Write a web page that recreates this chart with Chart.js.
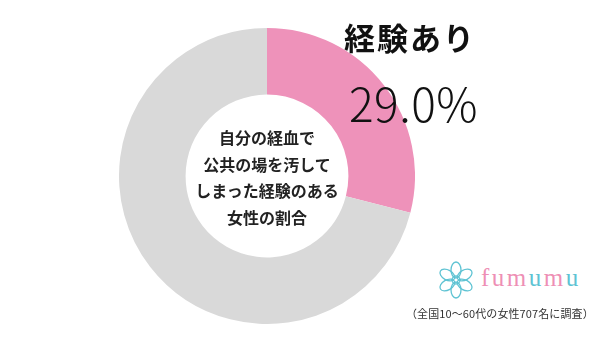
<!DOCTYPE html>
<html lang="ja">
<head>
  <meta charset="UTF-8" />
  <title>経験あり 29.0%</title>
  <script src="https://cdn.jsdelivr.net/npm/chart.js"></script>
  <style>
    /* ---------- layout ---------- */
    html,body { margin:0; padding:0; background:#fff; }
    body  { width:600px; height:341px; position:relative; overflow:hidden;
            font-family:"Noto Sans CJK JP","Noto Sans",sans-serif; color:#111; }
    .donut-box { position:absolute; left:119px; top:28px; width:296px; height:296px; }
    .center-txt{ position:absolute; left:167px; top:124px; width:200px;
                 text-align:center; font-size:16px; font-weight:700;
                 line-height:26.5px; color:#222; }
    .big-label { position:absolute; left:344px; top:14px; font-size:31px;
                 font-weight:700; letter-spacing:2px; color:#111; }
    .big-pct   { position:absolute; left:349px; top:69px; font-size:46px;
                 font-weight:300; color:#111; letter-spacing:0.5px; }
    .logo      { position:absolute; left:436px; top:261px; display:flex; align-items:center; }
    .logo-word { font-family:"Liberation Serif","DejaVu Serif",serif; font-size:25px;
                 letter-spacing:2.5px; margin-left:5px; margin-top:-4px; }
    .pk { color:#ee8fb5; } .tl { color:#5ec3d3; }
    .note      { position:absolute; left:406px; top:305px; font-size:11px; color:#333;
                 white-space:nowrap; letter-spacing:0.1px; }
  </style>
</head>
<body>
  <div class="donut-box"><canvas id="donut" width="296" height="296"></canvas></div>

  <div class="center-txt">自分の経血で<br>公共の場を汚して<br>しまった経験のある<br>女性の割合</div>

  <div class="big-label">経験あり</div>
  <div class="big-pct">29.0%</div>

  <!-- fumumu logo -->
  <div class="logo">
    <svg width="40" height="38" viewBox="-20 -19 40 38">
      <g fill="none" stroke="#5ec3d3" stroke-width="1.3">
        <ellipse cx="0" cy="-10" rx="5" ry="8" transform="rotate(0)"/>
        <ellipse cx="0" cy="-10" rx="5" ry="8" transform="rotate(60)"/>
        <ellipse cx="0" cy="-10" rx="5" ry="8" transform="rotate(120)"/>
        <ellipse cx="0" cy="-10" rx="5" ry="8" transform="rotate(180)"/>
        <ellipse cx="0" cy="-10" rx="5" ry="8" transform="rotate(240)"/>
        <ellipse cx="0" cy="-10" rx="5" ry="8" transform="rotate(300)"/>
        <circle cx="0" cy="0" r="4"/>
      </g>
    </svg>
    <span class="logo-word"><span class="pk">fum</span><span class="tl">u</span><span class="pk">m</span><span class="tl">u</span></span>
  </div>

  <div class="note">（全国10～60代の女性707名に調査）</div>

  <script>
    /* data */
    const labels = ["経験あり", "経験なし"];
    const values = [29.0, 71.0];
    const colors = ["#ee92ba", "#d9d9d9"];

    new Chart(document.getElementById("donut"), {
      type: "doughnut",
      data: { labels: labels,
              datasets: [{ data: values, backgroundColor: colors, borderWidth: 0 }] },
      options: {
        responsive: false, animation: false, cutout: "55%",
        layout: { padding: 0 },
        plugins: { legend: { display: false }, tooltip: { enabled: false } }
      }
    });
  </script>
</body>
</html>
